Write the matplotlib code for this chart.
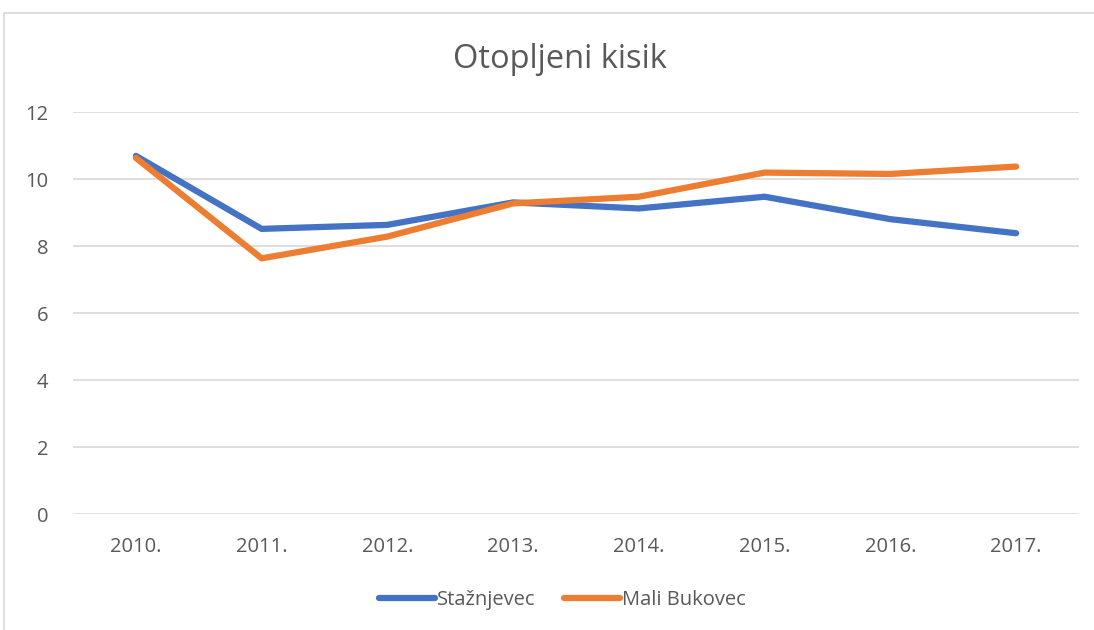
import matplotlib
matplotlib.use("Agg")
import matplotlib.pyplot as plt
from matplotlib.patches import Rectangle

plt.rcParams['font.family'] = ['Open Sans', 'DejaVu Sans']

years = ['2010.', '2011.', '2012.', '2013.', '2014.', '2015.', '2016.', '2017.']
staznjevec = [10.70, 8.52, 8.64, 9.31, 9.13, 9.48, 8.81, 8.39]
mali_bukovec = [10.64, 7.64, 8.29, 9.28, 9.48, 10.20, 10.16, 10.38]

txt = '#595959'

fig = plt.figure(figsize=(10.94, 6.3), dpi=100)
fig.patches.append(Rectangle((4 / 1094, -0.1), 1.2, 1 - 13 / 630 + 0.1,
                             transform=fig.transFigure, fill=False,
                             edgecolor='#d9d9d9', linewidth=1.2))

ax = fig.add_axes([73 / 1094, 1 - 514.3 / 630, 1006 / 1094, 402 / 630])
x = range(len(years))
ax.plot(x, staznjevec, color='#4472C4', linewidth=4.5, solid_capstyle='round',
        solid_joinstyle='round', label='Stažnjevec')
ax.plot(x, mali_bukovec, color='#ED7D31', linewidth=4.5, solid_capstyle='round',
        solid_joinstyle='round', label='Mali Bukovec')

ax.set_xlim(-0.5, len(years) - 0.5)
ax.set_ylim(0, 12)
ax.set_yticks(range(0, 13, 2))
ax.set_xticks(list(x))
ax.set_xticklabels(years)
ax.grid(axis='y', color='#d9d9d9', linewidth=1.2)
ax.set_axisbelow(True)
for s in ax.spines.values():
    s.set_visible(False)
ax.tick_params(length=0, labelsize=14.5, colors=txt)
ax.tick_params(axis='x', pad=16)
ax.tick_params(axis='y', pad=18)

fig.text(0.512, 0.906, 'Otopljeni kisik', ha='center', va='center',
         fontsize=23.5, color=txt)

leg = fig.legend(loc='center', bbox_to_anchor=(0.514, 0.048), ncol=2,
                 frameon=False, fontsize=14.5, handlelength=2.8,
                 handletextpad=0.1, columnspacing=1.4)
for t in leg.get_texts():
    t.set_color(txt)

fig.savefig('out.png', dpi=100)
